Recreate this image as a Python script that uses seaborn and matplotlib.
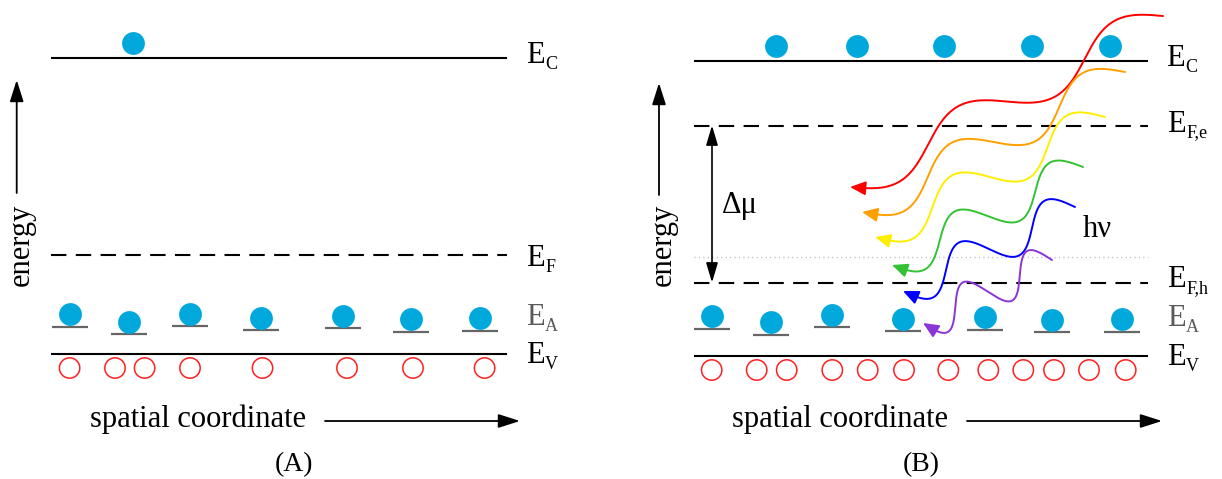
import numpy as np
import matplotlib
matplotlib.use("Agg")
import matplotlib.pyplot as plt
import seaborn as sns

sns.set_theme(style="white")
plt.rcParams["font.family"] = ["Liberation Serif", "DejaVu Serif"]
plt.rcParams["text.color"] = "black"

W, H = 1222, 479

# ---- panel A: equilibrium ----
a_span = (51, 507)
a_ec, a_ef, a_ev = 58.3, 255.0, 354.0
a_cb_electrons_x = [132.7]
a_cb_electrons_y = [43.3]
a_acc_x = [69.8, 128.5, 190.0, 260.8, 343.0, 410.8, 480.0]
a_acc_y = [326.7, 334.0, 326.0, 330.0, 328.0, 331.7, 330.7]
a_holes_x = [69.6, 115.0, 144.6, 190.0, 262.5, 347.0, 413.0, 484.6]
a_holes_y = 368.0

# ---- panel B: under illumination ----
b_span = (694, 1148)
b_ec, b_efe, b_mid, b_efh, b_ev = 60.7, 125.5, 256.7, 282.5, 355.7
b_cb_electrons_x = [775.5, 856.8, 944.0, 1031.8, 1109.5]
b_cb_electrons_y = [45.7] * 5
b_acc_x = [712.0, 771.0, 832.0, 903.0, 985.0, 1052.0, 1122.0]
b_acc_y = [328.7, 334.7, 327.3, 331.3, 329.7, 332.3, 331.7]
b_holes_x = [711.7, 756.7, 786.7, 832.3, 867.7, 904.0, 948.3, 988.3,
             1023.3, 1054.0, 1089.0, 1125.7]
b_holes_y = 370.0

# photon paths: arrow head (lower left) and tail (upper right)
wave_heads = [(850, 187), (862, 212), (875, 237), (892, 265), (903, 291), (923, 323)]
wave_tails = [(1163, 16), (1125, 72), (1105, 117), (1083, 167), (1075, 207), (1052, 260)]
wave_colors = ["#ff0000", "#ff9f00", "#ffee00", "#33c233", "#0000ff", "#8a35d8"]

ELECTRON = "#00a8dc"
HOLE = "#ff2020"
ACC = "#666666"
ACC_TXT = "#5a5a5a"

fig = plt.figure(figsize=(W / 100, H / 100), dpi=100)
ax = fig.add_axes([0, 0, 1, 1])
ax.set_xlim(0, W)
ax.set_ylim(H, 0)
ax.axis("off")

DASH = (0, (7.4, 4.5))


def band(span, y, style="-", color="black", lw=1.5):
    ax.plot(span, [y, y], color=color, lw=lw, ls=style, solid_capstyle="butt",
            dash_capstyle="butt", zorder=2)


def acceptors(xs, ys):
    for x, y in zip(xs, ys):
        ax.plot([x - 18, x + 18], [y, y], color=ACC, lw=1.6, solid_capstyle="butt", zorder=2)
    sns.scatterplot(x=xs, y=np.array(ys) - 12.5, ax=ax, s=270, color=ELECTRON,
                    linewidth=0, legend=False, zorder=3)


def electrons(xs, ys):
    sns.scatterplot(x=xs, y=ys, ax=ax, s=270, color=ELECTRON, linewidth=0,
                    legend=False, zorder=3)


def holes(xs, y):
    sns.scatterplot(x=xs, y=[y] * len(xs), ax=ax, s=215, marker="o",
                    facecolors="none", edgecolors=HOLE, linewidth=1.1,
                    legend=False, zorder=3)


def arrow(p_from, p_to, style="-|>", lw=1.3, color="black", hl=1.0, hw=0.3, ms=13):
    ax.annotate("", xy=p_to, xytext=p_from,
                arrowprops=dict(arrowstyle=f"{style},head_length={hl},head_width={hw}",
                                color=color, lw=lw, shrinkA=0, shrinkB=0,
                                mutation_scale=ms), zorder=4)


fig.canvas.draw()
renderer = fig.canvas.get_renderer()


def level_label(x, y, sub, color="black"):
    t = ax.text(x, y, "E", fontsize=22, color=color, ha="left", va="baseline")
    bb = t.get_window_extent(renderer=renderer)
    x_end = ax.transData.inverted().transform((bb.x1, bb.y0))[0]
    ax.text(x_end + 0.5, y + 6, sub, fontsize=13, color=color, ha="left", va="baseline")


# panel A
band(a_span, a_ec)
band(a_span, a_ef, style=DASH)
band(a_span, a_ev)
electrons(a_cb_electrons_x, a_cb_electrons_y)
acceptors(a_acc_x, a_acc_y)
holes(a_holes_x, a_holes_y)
level_label(526, 63.3, "C")
level_label(526, 266.0, "F")
level_label(526, 325.0, "A", ACC_TXT)
level_label(526, 363.0, "V")

# panel B
band(b_span, b_ec)
band(b_span, b_efe, style=DASH)
ax.plot(b_span, [b_mid, b_mid], color="#bbbbbb", lw=1.0, ls=(0, (0.8, 2.4)), zorder=1)
band(b_span, b_efh, style=DASH)
band(b_span, b_ev)
electrons(b_cb_electrons_x, b_cb_electrons_y)
acceptors(b_acc_x, b_acc_y)
holes(b_holes_x, b_holes_y)
level_label(1166, 66.0, "C")
level_label(1167, 131.5, "F,e")
level_label(1167, 287.0, "F,h")
level_label(1167, 326.0, "A", ACC_TXT)
level_label(1167, 365.0, "V")

# quasi-Fermi level splitting
arrow((712, b_efh), (712, b_efe), style="<|-|>", lw=1.2, hl=1.0, hw=0.3, ms=12)
ax.text(722, 213, "Δμ", fontsize=22, ha="left", va="baseline")

# emitted photons
AMP = 19.0
for head, tail, col in zip(wave_heads, wave_tails, wave_colors):
    h = np.array(head, float)
    tl = np.array(tail, float)
    d = tl - h
    L = np.hypot(*d)
    u = d / L
    nrm = np.array([-u[1], u[0]])
    t = np.linspace(0, 1, 600)
    pts = h + t[:, None] * d + AMP * np.sin(4 * np.pi * t)[:, None] * nrm
    dist = np.hypot(*(pts - h).T)
    k = int(np.argmax(dist >= 11))
    ax.plot(pts[k:, 0], pts[k:, 1], color=col, lw=1.4, zorder=5, solid_capstyle="round")
    ax.annotate("", xy=head, xytext=tuple(pts[k]),
                arrowprops=dict(arrowstyle="-|>,head_length=0.85,head_width=0.38",
                                color=col, lw=1.4, shrinkA=0, shrinkB=0,
                                mutation_scale=11), zorder=5)
ax.text(1083, 236.7, "hν", fontsize=22, ha="left", va="baseline")

# axes annotations
for ex, ey0, ey1, tx in [(16.7, 193, 80, 21), (659, 195, 83, 663)]:
    arrow((ex, ey0), (ex, ey1), lw=1.3, hl=1.1, hw=0.35, ms=12)
    ax.text(tx, 204, "energy", fontsize=22, rotation=90, ha="center", va="top")

for sx, ax0, ax1, cx, lab in [(90, 325, 520, 294, "(A)"), (732, 967, 1162, 921, "(B)")]:
    ax.text(sx, 427, "spatial coordinate", fontsize=22, ha="left", va="baseline")
    arrow((ax0, 421), (ax1, 421), lw=1.3, hl=1.1, hw=0.35, ms=12)
    ax.text(cx, 465, lab, fontsize=20, ha="center", va="center")

fig.savefig("out.png", dpi=100)
